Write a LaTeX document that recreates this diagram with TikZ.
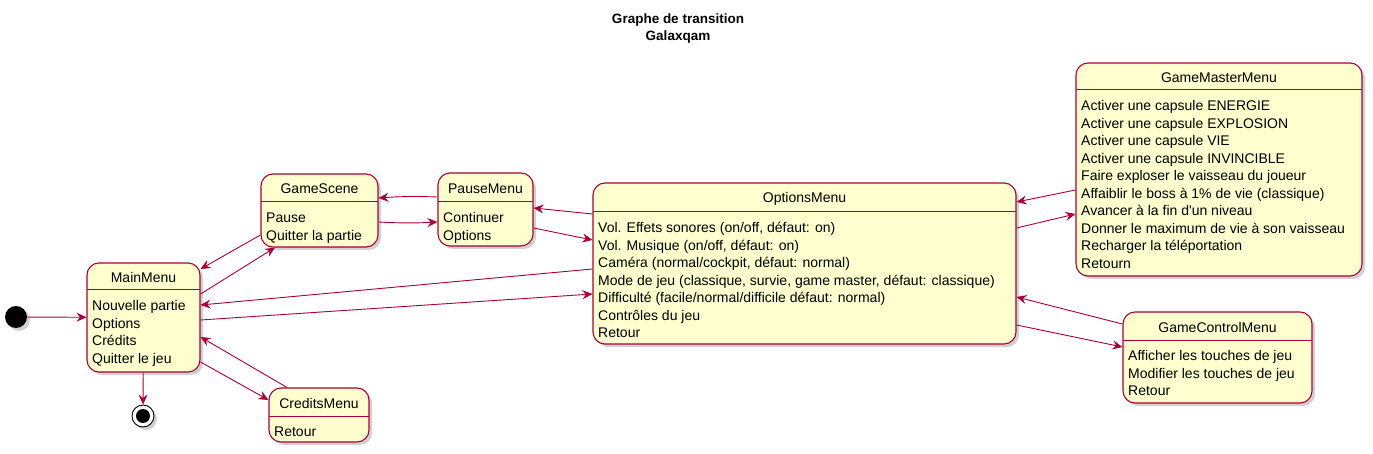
\documentclass[tikz,border=0pt]{standalone}
\usepackage{fontspec}
\setmainfont{Liberation Sans}
\newfontfamily\uifont{Liberation Sans}
\usetikzlibrary{arrows.meta,shadows,calc}
\definecolor{stfill}{HTML}{FEFECE}
\definecolor{stline}{HTML}{A80036}
\tikzset{
 shd/.style={drop shadow={shadow xshift=3pt,shadow yshift=-3pt,fill=black!40,opacity=0.45}},
 stbox/.style={draw=stline, fill=stfill, line width=1.1pt, rounded corners=12pt, inner sep=0pt, shd},
 sttitle/.style={font=\uifont\fontsize{14}{17.5}\selectfont, inner sep=0pt},
 stbody/.style={font=\uifont\fontsize{14}{17.5}\selectfont, inner sep=0pt, align=left, anchor=north west},
 tr/.style={draw=stline, line width=0.9pt, -{Stealth[length=10pt,width=9pt,inset=3.5pt]}},
}
\newcommand\stbx[8]{%
 \node[stbox, minimum width={(#4-#2)*1pt}, minimum height={(#5-#3)*1pt}] (#1) at ({(#2+#4)/2},{(#3+#5)/2}) {};
 \draw[draw=stline, line width=1pt] (#2,#6) -- (#4,#6);
 \node[sttitle] (#1-t) at ({(#2+#4)/2},{(#3+#6)/2+1}) {#7};
 \node[stbody] (#1-b) at (#2+5,#6+8.25) {\strut#8};
}
\begin{document}
\begin{tikzpicture}[x=1pt,y=-1pt]
\useasboundingbox (0,0) rectangle (1373,454);
\node[font=\uifont\bfseries\fontsize{13.5}{17}\selectfont, align=center, inner sep=0pt] (title) at (678,29) {Graphe de transition\\Galaxqam};

\stbx{main}{87}{263}{200}{372}{290}{MainMenu}{Nouvelle partie\\Options\\Crédits\\Quitter le jeu}
\stbx{gs}{261}{174}{378}{247}{202}{GameScene}{Pause\\Quitter la partie}
\stbx{pm}{438}{173}{533}{246}{202}{PauseMenu}{Continuer\\Options}
\stbx{om}{593}{183}{1016}{344}{212}{OptionsMenu}{Vol. Effets sonores (on/off, défaut: on)\\Vol. Musique (on/off, défaut: on)\\Caméra (normal/cockpit, défaut: normal)\\Mode de jeu (classique, survie, game master, défaut: classique)\\Difficulté (facile/normal/difficile défaut: normal)\\Contrôles du jeu\\Retour}
\stbx{gm}{1076}{63}{1362}{276}{90}{GameMasterMenu}{Activer une capsule ENERGIE\\Activer une capsule EXPLOSION\\Activer une capsule VIE\\Activer une capsule INVINCIBLE\\Faire exploser le vaisseau du joueur\\Affaiblir le boss à 1\% de vie (classique)\\Avancer à la fin d'un niveau\\Donner le maximum de vie à son vaisseau\\Recharger la téléportation\\Retourn}
\stbx{gc}{1123}{312}{1312}{403}{340}{GameControlMenu}{Afficher les touches de jeu\\Modifier les touches de jeu\\Retour}
\stbx{cm}{269}{388}{369}{442}{416}{CreditsMenu}{Retour}

\node[circle, fill=black, minimum size=22pt, inner sep=0pt, shd] (init) at (16,317) {};
\node[circle, draw=black, fill=white, line width=0.9pt, minimum size=22pt, inner sep=0pt, shd] (end) at (143,416) {};
\node[circle, fill=black, minimum size=14pt, inner sep=0pt] (endin) at (end) {};

\draw[tr] (init) -- (main);
\draw[tr] (main) -- (end);
\draw[tr] (gs.west |- 0,235) -- (main.east |- 0,269);
\draw[tr] (main.east |- 0,294) -- (gs.south -| 275,0);
\draw[tr] (om.west |- 0,269) -- (main.east |- 0,305);
\draw[tr] (main.east |- 0,320) -- (om.west |- 0,294);
\draw[tr] (cm.north -| 287,0) -- (main.east |- 0,337);
\draw[tr] (main.east |- 0,362) -- (cm.west |- 0,400);
\draw[tr] (pm.west |- 0,197) to[bend right=3] (gs.east |- 0,198);
\draw[tr] (gs.east |- 0,222) to[bend right=3] (pm.west |- 0,222);
\draw[tr] (om.west |- 0,214) -- (pm.east |- 0,208);
\draw[tr] (pm.east |- 0,228) -- (om.west |- 0,240);
\draw[tr] (gm.west |- 0,190) -- (om.east |- 0,202);
\draw[tr] (om.east |- 0,228) -- (gm.west |- 0,214);
\draw[tr] (gc.west |- 0,324) -- (om.east |- 0,297);
\draw[tr] (om.east |- 0,325) -- (gc.west |- 0,347);
\end{tikzpicture}
\end{document}
